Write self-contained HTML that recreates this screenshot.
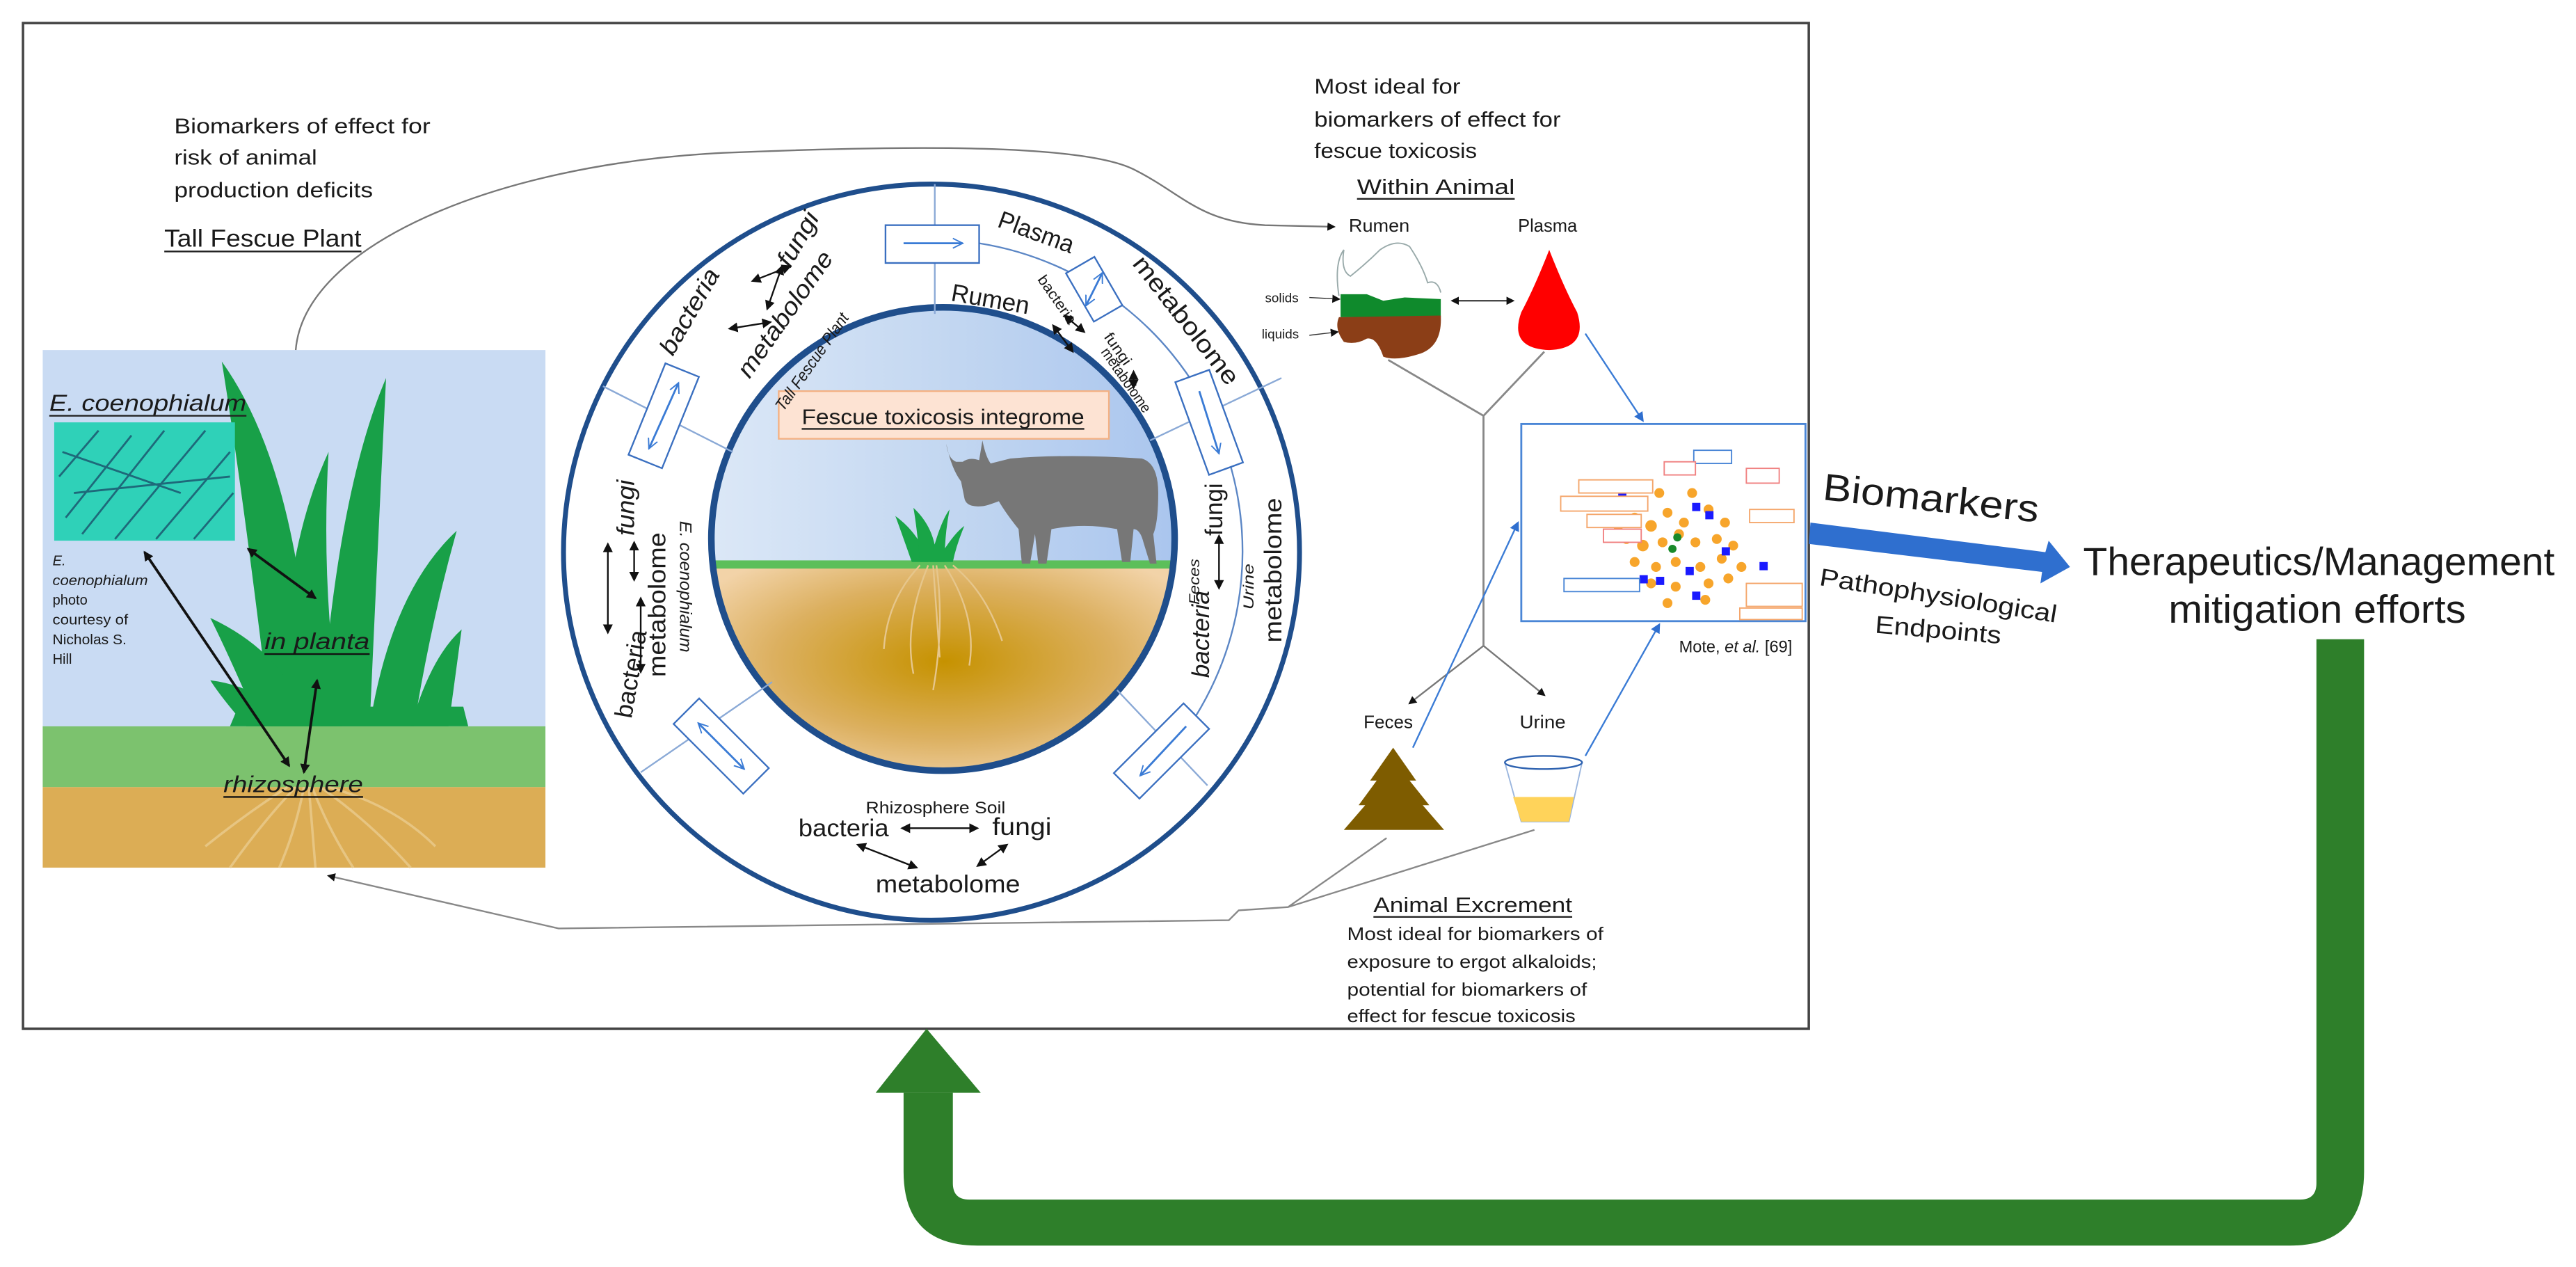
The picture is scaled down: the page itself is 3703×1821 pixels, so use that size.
<!DOCTYPE html>
<html><head><meta charset="utf-8"><style>
html,body{margin:0;padding:0;background:#fff;}
svg{display:block;}
text{font-family:"Liberation Sans",sans-serif;fill:#1a1a1a;}
</style></head><body>
<svg width="3703" height="1821" viewBox="0 0 1568 771" xmlns="http://www.w3.org/2000/svg">
<defs>
<linearGradient id="sky2" x1="0" y1="0" x2="1" y2="0"><stop offset="0" stop-color="#dce8f7"/><stop offset="0.5" stop-color="#c3d7f1"/><stop offset="1" stop-color="#a9c5ee"/></linearGradient>
<radialGradient id="soil" cx="0.5" cy="0.45" r="0.6"><stop offset="0" stop-color="#c69200"/><stop offset="0.6" stop-color="#dcb060"/><stop offset="1" stop-color="#f2d3a8"/></radialGradient>
<clipPath id="inner"><circle cx="574" cy="328" r="141"/></clipPath>
<marker id="ah" markerWidth="6" markerHeight="6" refX="5" refY="3" orient="auto-start-reverse" markerUnits="userSpaceOnUse"><path d="M0,0 L6,3 L0,6Z" fill="#111"/></marker>
<marker id="ahs" markerWidth="5" markerHeight="5" refX="4" refY="2.5" orient="auto-start-reverse" markerUnits="userSpaceOnUse"><path d="M0,0 L5,2.5 L0,5Z" fill="#111"/></marker>
<marker id="ab" markerWidth="6" markerHeight="6" refX="5" refY="3" orient="auto-start-reverse" markerUnits="userSpaceOnUse"><path d="M0,0 L6,3 L0,6Z" fill="#2f6fcf"/></marker>
<marker id="abo" markerWidth="7" markerHeight="7" refX="6" refY="3.5" orient="auto-start-reverse" markerUnits="userSpaceOnUse"><path d="M0,0.5 L6,3.5 L0,6.5" fill="none" stroke="#3a7bd5" stroke-width="0.8"/></marker>
</defs>

<rect x="14" y="14" width="1087" height="612" fill="#fff" stroke="#444" stroke-width="1.5"/>

<text x="106" y="81" font-size="13" textLength="156" lengthAdjust="spacingAndGlyphs">Biomarkers of effect for</text>
<text x="106" y="100" font-size="13" textLength="87" lengthAdjust="spacingAndGlyphs">risk of animal</text>
<text x="106" y="120" font-size="13" textLength="121" lengthAdjust="spacingAndGlyphs">production deficits</text>
<text x="100" y="150" font-size="15" textLength="120" lengthAdjust="spacingAndGlyphs">Tall Fescue Plant</text>
<line x1="100" y1="153" x2="220" y2="153" stroke="#222" stroke-width="1"/>

<path d="M180,213 C185,150 300,100 440,93 C560,88 660,88 690,103 C720,118 730,135 770,137 L812,138" fill="none" stroke="#777" stroke-width="1" marker-end="url(#ahs)"/>
<path d="M844,510 L784,552 M934,505 L784,552 L754,554 L748,560 L340,565 L200,533" fill="none" stroke="#888" stroke-width="1" marker-end="url(#ahs)"/>

<rect x="26" y="213" width="306" height="230" fill="#c9dbf3"/>
<rect x="26" y="442" width="306" height="37" fill="#7cc26e"/>
<rect x="26" y="479" width="306" height="49" fill="#dcad55"/>
<g stroke="#e8c887" stroke-width="1.5" fill="none" opacity="0.9">
<path d="M180,479 Q160,500 140,528 M185,479 Q180,505 170,528 M190,479 Q200,505 215,528 M195,479 Q225,500 250,528 M175,479 Q150,495 125,515 M200,479 Q240,490 265,515 M188,479 L192,528"/>
</g>
<g fill="#18a048">
<path d="M165,442 Q148,300 135,220 Q185,290 190,442Z"/>
<path d="M195,442 Q205,300 235,230 Q230,330 225,442Z"/>
<path d="M225,442 Q238,360 278,323 Q262,380 252,442Z"/>
<path d="M250,442 Q262,400 281,383 Q276,420 273,442Z"/>
<path d="M150,442 Q135,425 128,414 Q160,418 178,442Z"/>
<path d="M158,442 Q140,400 128,376 Q175,398 188,442Z"/>
<path d="M172,442 Q170,340 200,275 Q195,360 208,442Z"/>
<path d="M140,442 L285,442 L282,430 L145,430Z"/>
</g>
<text x="30" y="250" font-size="14" font-style="italic" textLength="120" lengthAdjust="spacingAndGlyphs">E. coenophialum</text>
<line x1="30" y1="253" x2="150" y2="253" stroke="#222" stroke-width="1"/>
<rect x="33" y="257" width="110" height="72" fill="#2fd1b8"/>
<g stroke="#1a4f6a" stroke-width="1.2" fill="none" opacity="0.8">
<path d="M36,290 L60,262 M40,315 L80,265 M50,325 L100,262 M70,328 L125,262 M95,328 L140,275 M118,328 L142,300 M45,300 L140,290 M38,275 L110,300"/>
</g>
<g font-size="8.5" fill="#333">
<text x="32" y="344" font-style="italic">E.</text>
<text x="32" y="356" font-style="italic" textLength="58" lengthAdjust="spacingAndGlyphs">coenophialum</text>
<text x="32" y="368">photo</text>
<text x="32" y="380" textLength="46" lengthAdjust="spacingAndGlyphs">courtesy of</text>
<text x="32" y="392" textLength="45" lengthAdjust="spacingAndGlyphs">Nicholas S.</text>
<text x="32" y="404">Hill</text>
</g>
<text x="161" y="395" font-size="14" font-style="italic" textLength="64" lengthAdjust="spacingAndGlyphs">in planta</text>
<line x1="161" y1="398" x2="225" y2="398" stroke="#111" stroke-width="1"/>
<text x="136" y="482" font-size="14" font-style="italic" textLength="85" lengthAdjust="spacingAndGlyphs">rhizosphere</text>
<line x1="136" y1="485" x2="221" y2="485" stroke="#111" stroke-width="1"/>
<g stroke="#111" stroke-width="1.6" fill="none" marker-start="url(#ah)" marker-end="url(#ah)">
<line x1="88" y1="336" x2="176" y2="466"/>
<line x1="151" y1="334" x2="192" y2="364"/>
<line x1="193" y1="414" x2="185" y2="470"/>
</g>

<circle cx="567" cy="336" r="224" fill="#fff" stroke="#1f4e8c" stroke-width="3"/>
<g clip-path="url(#inner)">
<rect x="430" y="185" width="290" height="160" fill="url(#sky2)"/>
<rect x="430" y="344" width="290" height="130" fill="url(#soil)"/>
<rect x="430" y="341" width="290" height="5" fill="#5cbf5a"/>
<g stroke="#e6c68c" stroke-width="1" fill="none">
<path d="M565,344 Q550,380 556,410 M570,344 Q575,380 568,420 M575,344 Q595,375 590,405 M560,344 Q540,365 538,395 M580,344 Q600,360 610,390 M568,344 L572,400"/>
</g>
</g>
<circle cx="574" cy="328" r="141" fill="none" stroke="#1f4e8c" stroke-width="4"/>
<g fill="#19a547">
<path d="M555,342 Q548,322 545,314 Q560,325 565,342Z"/>
<path d="M560,342 Q558,320 556,309 Q570,322 570,342Z"/>
<path d="M566,342 Q572,318 578,310 Q575,325 575,342Z"/>
<path d="M570,342 Q580,325 587,320 Q582,332 580,342Z"/>
</g>
<path fill="#777" d="M576,270 Q577,279 582,281 L586,281 Q590,278 596,280 L598,268 Q600,278 603,282 L615,279 Q650,276 695,279 Q705,282 705,300 Q705,318 702,325 L704,343 L700,343 L696,330 Q694,322 690,322 L688,342 L683,342 L680,322 Q660,318 640,322 L637,343 L632,343 L630,325 L627,343 L622,343 L620,322 Q612,312 608,305 Q600,308 598,308 Q588,309 587,303 L585,293 Q579,285 576,270Z"/>
<rect x="474" y="238" width="201" height="29" fill="#fde3d3" stroke="#f4b183" stroke-width="1"/>
<text x="488" y="258" font-size="13" textLength="172" lengthAdjust="spacingAndGlyphs">Fescue toxicosis integrome</text>
<line x1="488" y1="261" x2="660" y2="261" stroke="#222" stroke-width="1"/>

<path d="M596,148 A190,190 0 0 1 710,460" fill="none" stroke="#5b86c5" stroke-width="1"/>
<g stroke="#8aa9d6" stroke-width="1">
<line x1="569" y1="112" x2="569" y2="191"/>
<line x1="367" y1="235" x2="446" y2="275"/>
<line x1="780" y1="230" x2="700" y2="268"/>
<line x1="390" y1="470" x2="470" y2="415"/>
<line x1="735" y1="478" x2="680" y2="420"/>
</g>
<g fill="#fff" stroke="#3a6fc0" stroke-width="1">
<rect x="539" y="137" width="57" height="23"/>
<rect x="-11" y="-30" width="22" height="60" transform="translate(404,253) rotate(22)"/>
<rect x="-10" y="-17" width="20" height="34" transform="translate(666,176) rotate(-30)"/>
<rect x="-11" y="-30" width="22" height="60" transform="translate(736,257) rotate(-20)"/>
<rect x="-30" y="-11" width="60" height="22" transform="translate(439,454) rotate(45)"/>
<rect x="-30" y="-11" width="60" height="22" transform="translate(707,457) rotate(-45)"/>
</g>
<g stroke="#3a7bd5" stroke-width="1.2" fill="none">
<line x1="550" y1="148" x2="586" y2="148" marker-end="url(#abo)"/>
<line x1="395" y1="273" x2="413" y2="233" marker-start="url(#abo)" marker-end="url(#abo)"/>
<line x1="661" y1="186" x2="671" y2="166" marker-start="url(#abo)" marker-end="url(#abo)"/>
<line x1="730" y1="238" x2="742" y2="276" marker-end="url(#abo)"/>
<line x1="425" y1="440" x2="453" y2="468" marker-start="url(#abo)" marker-end="url(#abo)"/>
<line x1="722" y1="442" x2="694" y2="472" marker-end="url(#abo)"/>
</g>

<g font-size="15">
<text transform="translate(629,146) rotate(20)" text-anchor="middle" textLength="48" lengthAdjust="spacingAndGlyphs">Plasma</text>
<text transform="translate(718,198) rotate(52)" text-anchor="middle" textLength="95" lengthAdjust="spacingAndGlyphs">metabolome</text>
<text transform="translate(602,187) rotate(10)" text-anchor="middle" textLength="48" lengthAdjust="spacingAndGlyphs">Rumen</text>
<text transform="translate(424,192) rotate(-60)" text-anchor="middle" font-style="italic" textLength="58" lengthAdjust="spacingAndGlyphs">bacteria</text>
<text transform="translate(490,148) rotate(-60)" text-anchor="middle" font-style="italic" textLength="36" lengthAdjust="spacingAndGlyphs">fungi</text>
<text transform="translate(482,194) rotate(-55)" text-anchor="middle" font-style="italic" textLength="90" lengthAdjust="spacingAndGlyphs">metabolome</text>
<text transform="translate(386,309) rotate(-90)" text-anchor="middle" font-style="italic" textLength="34" lengthAdjust="spacingAndGlyphs">fungi</text>
<text transform="translate(405,368) rotate(-90)" text-anchor="middle" textLength="88" lengthAdjust="spacingAndGlyphs">metabolome</text>
<text transform="translate(389,411) rotate(-80)" text-anchor="middle" textLength="54" lengthAdjust="spacingAndGlyphs">bacteria</text>
<text transform="translate(744,310) rotate(-90)" text-anchor="middle" textLength="32" lengthAdjust="spacingAndGlyphs">fungi</text>
<text transform="translate(736,386) rotate(-90)" text-anchor="middle" font-style="italic" textLength="53" lengthAdjust="spacingAndGlyphs">bacteria</text>
<text transform="translate(780,347) rotate(-90)" text-anchor="middle" textLength="88" lengthAdjust="spacingAndGlyphs">metabolome</text>
<text x="486" y="509" textLength="55" lengthAdjust="spacingAndGlyphs">bacteria</text>
<text x="604" y="508" textLength="36" lengthAdjust="spacingAndGlyphs">fungi</text>
<text x="533" y="543" textLength="88" lengthAdjust="spacingAndGlyphs">metabolome</text>
</g>
<g font-size="9">
<text transform="translate(641,184) rotate(55)" text-anchor="middle" textLength="34" lengthAdjust="spacingAndGlyphs">bacteria</text>
<text transform="translate(678,214) rotate(55)" text-anchor="middle" textLength="22" lengthAdjust="spacingAndGlyphs">fungi</text>
<text transform="translate(683,233) rotate(55)" text-anchor="middle" textLength="46" lengthAdjust="spacingAndGlyphs">metabolome</text>
<text transform="translate(497,222) rotate(-55)" text-anchor="middle" font-style="italic" font-size="10" textLength="70" lengthAdjust="spacingAndGlyphs">Tall Fescue Plant</text>
<text transform="translate(414,357) rotate(90)" text-anchor="middle" font-style="italic" font-size="10" textLength="80" lengthAdjust="spacingAndGlyphs">E. coenophialum</text>
<text transform="translate(730,354) rotate(-90)" text-anchor="middle" font-style="italic" textLength="28" lengthAdjust="spacingAndGlyphs">Feces</text>
<text transform="translate(763,357) rotate(-90)" text-anchor="middle" font-style="italic" textLength="28" lengthAdjust="spacingAndGlyphs">Urine</text>
<text x="527" y="495" font-size="10" textLength="85" lengthAdjust="spacingAndGlyphs">Rhizosphere Soil</text>
</g>
<g stroke="#111" stroke-width="1" fill="none" marker-start="url(#ah)" marker-end="url(#ah)">
<line x1="458" y1="171" x2="481" y2="162"/>
<line x1="476" y1="162" x2="467" y2="188"/>
<line x1="444" y1="200" x2="469" y2="196"/>
<line x1="648" y1="192" x2="660" y2="202"/>
<line x1="641" y1="198" x2="653" y2="214"/>
<line x1="690" y1="226" x2="690" y2="236"/>
<line x1="370" y1="331" x2="370" y2="385"/>
<line x1="386" y1="330" x2="386" y2="353"/>
<line x1="390" y1="364" x2="390" y2="409"/>
<line x1="742" y1="326" x2="742" y2="358"/>
<line x1="549" y1="504" x2="595" y2="504"/>
<line x1="522" y1="514" x2="558" y2="528"/>
<line x1="613" y1="514" x2="595" y2="527"/>
</g>

<g font-size="13">
<text x="800" y="57" textLength="89" lengthAdjust="spacingAndGlyphs">Most ideal for</text>
<text x="800" y="77" textLength="150" lengthAdjust="spacingAndGlyphs">biomarkers of effect for</text>
<text x="800" y="96" textLength="99" lengthAdjust="spacingAndGlyphs">fescue toxicosis</text>
<text x="826" y="118" textLength="96" lengthAdjust="spacingAndGlyphs">Within Animal</text>
</g>
<line x1="826" y1="121" x2="922" y2="121" stroke="#222" stroke-width="1"/>
<text x="821" y="141" font-size="11" fill="#333" textLength="37" lengthAdjust="spacingAndGlyphs">Rumen</text>
<text x="924" y="141" font-size="11" fill="#333" textLength="36" lengthAdjust="spacingAndGlyphs">Plasma</text>
<path d="M815,180 Q812,160 818,152 Q816,165 822,168 Q832,160 840,152 Q850,145 858,150 Q866,162 869,172 Q875,170 877,178" fill="none" stroke="#9aa" stroke-width="0.8"/>
<path d="M816,179 L832,179 L842,183 L855,181 L877,182 L877,193 L816,193Z" fill="#0f8a2c"/>
<path d="M815,193 L877,192 Q878,210 865,215 Q850,220 842,217 Q838,205 832,206 Q825,210 818,208 Q812,200 815,193Z" fill="#8b3e17"/>
<text x="770" y="184" font-size="8" fill="#444">solids</text>
<text x="768" y="206" font-size="8" fill="#444">liquids</text>
<line x1="797" y1="181" x2="815" y2="182" stroke="#333" stroke-width="0.6" marker-end="url(#ahs)"/>
<line x1="797" y1="204" x2="814" y2="202" stroke="#333" stroke-width="0.6" marker-end="url(#ahs)"/>
<line x1="884" y1="183" x2="921" y2="183" stroke="#111" stroke-width="0.8" marker-start="url(#ahs)" marker-end="url(#ahs)"/>
<path d="M943,152 Q952,175 960,190 Q967,212 943,213 Q918,212 926,190 Q934,175 943,152Z" fill="#ff0000"/>
<path d="M845,219 L903,253 L940,214 M903,253 L903,393" fill="none" stroke="#888" stroke-width="1.2"/>
<line x1="903" y1="393" x2="858" y2="428" stroke="#777" stroke-width="1" marker-end="url(#ahs)"/>
<line x1="903" y1="393" x2="940" y2="423" stroke="#777" stroke-width="1" marker-end="url(#ahs)"/>
<text x="830" y="443" font-size="11" fill="#333" textLength="30" lengthAdjust="spacingAndGlyphs">Feces</text>
<text x="925" y="443" font-size="11" fill="#333" textLength="28" lengthAdjust="spacingAndGlyphs">Urine</text>
<path d="M848,455 L862,475 L858,475 L870,490 L866,490 L879,505 L818,505 L831,490 L827,490 L838,475 L834,475Z" fill="#7e5c00"/>
<path d="M916,464 L926,500 L955,500 L963,464Z" fill="#fff" stroke="#9bb6de" stroke-width="0.8"/>
<ellipse cx="939.5" cy="464" rx="23.5" ry="4" fill="#fff" stroke="#2e62b0" stroke-width="1"/>
<path d="M921,485 L958,485 L955,500 L926,500Z" fill="#ffd35a"/>
<g stroke="#3a7bd5" stroke-width="1" fill="none" marker-end="url(#ab)">
<line x1="965" y1="203" x2="1000" y2="256"/>
<line x1="860" y1="455" x2="924" y2="318"/>
<line x1="965" y1="460" x2="1010" y2="380"/>
</g>
<rect x="926" y="258" width="173" height="120" fill="#fff" stroke="#4a86d6" stroke-width="1.2"/>
<g fill="#f7a52b">
<circle cx="1000" cy="305" r="3"/><circle cx="1010" cy="300" r="3"/><circle cx="1030" cy="300" r="3"/><circle cx="995" cy="315" r="3"/><circle cx="1005" cy="320" r="3.5"/><circle cx="1015" cy="312" r="3"/><circle cx="1025" cy="318" r="3"/><circle cx="1040" cy="310" r="3"/><circle cx="1050" cy="318" r="3"/><circle cx="990" cy="328" r="3"/><circle cx="1000" cy="332" r="3.5"/><circle cx="1012" cy="330" r="3"/><circle cx="1032" cy="330" r="3"/><circle cx="1045" cy="328" r="3"/><circle cx="1055" cy="332" r="3"/><circle cx="995" cy="342" r="3"/><circle cx="1008" cy="345" r="3"/><circle cx="1020" cy="342" r="3"/><circle cx="1035" cy="345" r="3"/><circle cx="1048" cy="340" r="3"/><circle cx="1060" cy="345" r="3"/><circle cx="1005" cy="355" r="3"/><circle cx="1020" cy="357" r="3"/><circle cx="1040" cy="355" r="3"/><circle cx="1052" cy="352" r="3"/><circle cx="1015" cy="367" r="3"/><circle cx="1038" cy="365" r="3"/><circle cx="985" cy="320" r="3"/><circle cx="1022" cy="325" r="3"/>
</g>
<g fill="#1a1aff">
<rect x="985" y="299" width="5" height="5"/><rect x="1030" y="306" width="5" height="5"/><rect x="1038" y="311" width="5" height="5"/><rect x="1048" y="333" width="5" height="5"/><rect x="1026" y="345" width="5" height="5"/><rect x="1071" y="342" width="5" height="5"/><rect x="998" y="350" width="5" height="5"/><rect x="1008" y="351" width="5" height="5"/><rect x="1030" y="360" width="5" height="5"/>
</g>
<circle cx="1021" cy="327" r="2.5" fill="#1a8a2a"/><circle cx="1018" cy="334" r="2.5" fill="#1a8a2a"/>
<g fill="#fff" stroke-width="0.8">
<rect x="1031" y="274" width="23" height="8" stroke="#4a86d6"/>
<rect x="1013" y="281" width="19" height="8" stroke="#f08080"/>
<rect x="1063" y="285" width="20" height="9" stroke="#f08080"/>
<rect x="961" y="292" width="45" height="8" stroke="#f4a66b"/>
<rect x="950" y="302" width="53" height="9" stroke="#f4a66b"/>
<rect x="966" y="313" width="33" height="8" stroke="#f4a66b"/>
<rect x="976" y="322" width="23" height="8" stroke="#f08080"/>
<rect x="1065" y="310" width="27" height="8" stroke="#f4a66b"/>
<rect x="952" y="352" width="46" height="8" stroke="#4a86d6"/>
<rect x="1063" y="355" width="34" height="14" stroke="#f4a66b"/>
<rect x="1059" y="370" width="38" height="7" stroke="#f4a66b"/>
</g>
<text x="1022" y="397" font-size="10" fill="#333">Mote, <tspan font-style="italic">et al.</tspan> [69]</text>

<text x="836" y="555" font-size="13" textLength="121" lengthAdjust="spacingAndGlyphs">Animal Excrement</text>
<line x1="836" y1="558" x2="957" y2="558" stroke="#222" stroke-width="1"/>
<g font-size="11">
<text x="820" y="572" textLength="156" lengthAdjust="spacingAndGlyphs">Most ideal for biomarkers of</text>
<text x="820" y="589" textLength="152" lengthAdjust="spacingAndGlyphs">exposure to ergot alkaloids;</text>
<text x="820" y="606" textLength="146" lengthAdjust="spacingAndGlyphs">potential for biomarkers of</text>
<text x="820" y="622" textLength="139" lengthAdjust="spacingAndGlyphs">effect for fescue toxicosis</text>
</g>

<path d="M1102,318 L1245,336 L1247,329 L1260,345 L1242,355 L1243,348 L1101,331Z" fill="#2f6fcf"/>
<text transform="translate(1109,304) rotate(6)" font-size="23" fill="#000" textLength="132" lengthAdjust="spacingAndGlyphs">Biomarkers</text>
<text transform="translate(1107,356) rotate(9)" font-size="15" fill="#000" textLength="146" lengthAdjust="spacingAndGlyphs">Pathophysiological</text>
<text transform="translate(1141,385) rotate(5)" font-size="15" fill="#000" textLength="77" lengthAdjust="spacingAndGlyphs">Endpoints</text>
<text x="1268" y="350" font-size="24" fill="#000" textLength="287" lengthAdjust="spacingAndGlyphs">Therapeutics/Management</text>
<text x="1320" y="379" font-size="24" fill="#000" textLength="181" lengthAdjust="spacingAndGlyphs">mitigation efforts</text>

<path d="M550,665 L550,713 Q550,758 595,758 L1394,758 Q1439,758 1439,713 L1439,389 L1410,389 L1410,720 Q1410,730 1400,730 L590,730 Q580,730 580,720 L580,665Z" fill="#2e7f2a"/>
<path d="M533,665 L597,665 L564,626Z" fill="#2e7f2a"/>
</svg>
</body></html>
